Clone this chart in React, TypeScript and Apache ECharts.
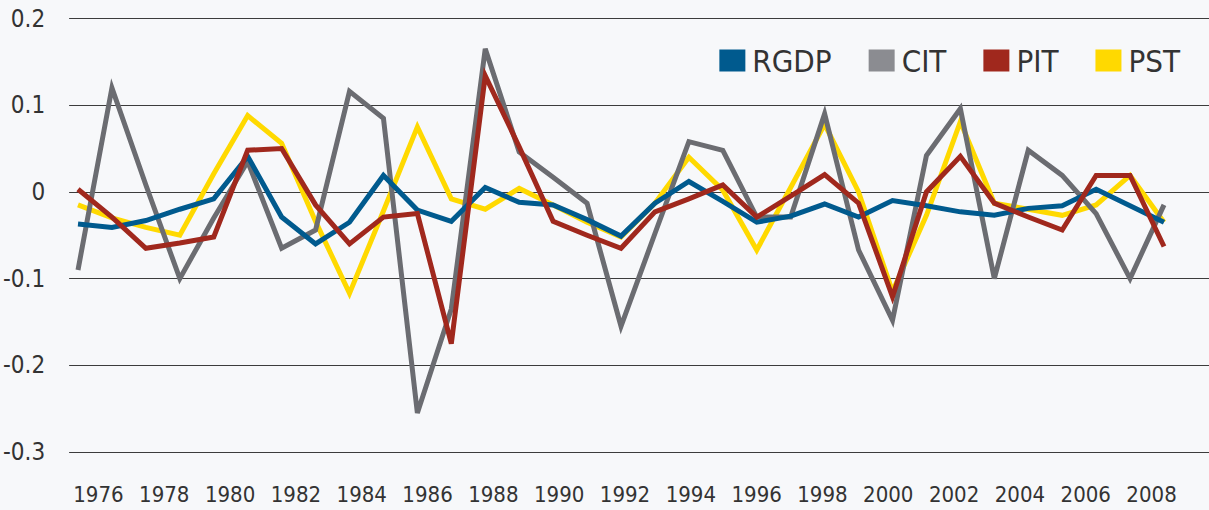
import React, { useEffect, useRef } from "react";
import * as echarts from "echarts";

const years = [
  "1976", "1977", "1978", "1979", "1980", "1981", "1982", "1983", "1984", "1985",
  "1986", "1987", "1988", "1989", "1990", "1991", "1992", "1993", "1994", "1995",
  "1996", "1997", "1998", "1999", "2000", "2001", "2002", "2003", "2004", "2005",
  "2006", "2007", "2008",
];

const rgdp = [
  -0.037, -0.041, -0.033, -0.020, -0.008, 0.041, -0.029, -0.060, -0.035, 0.019,
  -0.021, -0.034, 0.005, -0.012, -0.015, -0.032, -0.051, -0.013, 0.012, -0.011,
  -0.035, -0.028, -0.014, -0.029, -0.010, -0.016, -0.023, -0.027, -0.019, -0.016,
  0.003, -0.016, -0.035,
];

const cit = [
  -0.090, 0.120, 0.008, -0.100, -0.030, 0.035, -0.065, -0.044, 0.116, 0.085,
  -0.255, -0.135, 0.165, 0.046, 0.017, -0.013, -0.155, -0.048, 0.058, 0.048,
  -0.029, -0.029, 0.090, -0.067, -0.148, 0.042, 0.096, -0.100, 0.048, 0.019,
  -0.025, -0.100, -0.015,
];

const pit = [
  0.003, -0.029, -0.065, -0.059, -0.052, 0.048, 0.050, -0.015, -0.060, -0.029,
  -0.025, -0.175, 0.134, 0.052, -0.034, -0.050, -0.065, -0.023, -0.008, 0.008,
  -0.029, -0.005, 0.020, -0.013, -0.121, 0.000, 0.041, -0.013, -0.029, -0.044,
  0.019, 0.019, -0.063,
];

const pst = [
  -0.015, -0.030, -0.041, -0.050, 0.021, 0.088, 0.056, -0.034, -0.117, -0.022,
  0.075, -0.008, -0.020, 0.004, -0.015, -0.035, -0.052, -0.013, 0.040, 0.002,
  -0.067, 0.005, 0.078, 0.000, -0.115, -0.027, 0.081, -0.013, -0.020, -0.027,
  -0.015, 0.019, -0.035,
];

const yTicks = { min: -0.3, max: 0.2, interval: 0.1 };

const FONT = "'Liberation Sans Narrow', 'DejaVu Sans Condensed', 'Roboto', sans-serif";
const TEXT = "#333333";

const seriesDefs = [
  { name: "PST", data: pst, color: "#ffd900", z: 2 },
  { name: "CIT", data: cit, color: "#6b6c71", z: 3 },
  { name: "RGDP", data: rgdp, color: "#005a8e", z: 4 },
  { name: "PIT", data: pit, color: "#a0281d", z: 5 },
];

export default function App() {
  const ref = useRef<HTMLDivElement>(null);

  useEffect(() => {
    if (!ref.current) return;
    const chart = echarts.init(ref.current, undefined, { renderer: "svg" });
    const gridBase = { top: 18.5, height: 433.5 };
    const hiddenY = (gi: number) => ({
      type: "value",
      gridIndex: gi,
      min: yTicks.min,
      max: yTicks.max,
      interval: yTicks.interval,
      show: false,
    });
    chart.setOption({
      animation: false,
      backgroundColor: "#f7f8fa",
      grid: [
        { ...gridBase, left: 66, right: 0 },
        { ...gridBase, left: 78, width: 1086 },
        { ...gridBase, left: 82, width: 1086 },
      ],
      xAxis: [
        { type: "value", gridIndex: 0, min: 0, max: 1, show: false },
        {
          type: "category",
          gridIndex: 1,
          data: years,
          boundaryGap: false,
          show: false,
        },
        {
          type: "category",
          gridIndex: 2,
          data: years,
          boundaryGap: true,
          axisLine: { show: false },
          axisTick: { show: false },
          splitLine: { show: false },
          axisLabel: {
            interval: 1,
            margin: 31,
            color: TEXT,
            fontFamily: FONT,
            fontSize: 22,
          },
        },
      ],
      yAxis: [
        {
          type: "value",
          gridIndex: 0,
          min: yTicks.min,
          max: yTicks.max,
          interval: yTicks.interval,
          axisLine: { show: false },
          axisTick: { show: false },
          splitLine: { show: true, lineStyle: { color: "#3c3c3c", width: 1 } },
          axisLabel: {
            margin: 24,
            color: TEXT,
            fontFamily: FONT,
            fontSize: 24,
            formatter: (v: number) => String(Math.round(v * 10) / 10),
          },
        },
        hiddenY(1),
        hiddenY(2),
      ],
      legend: {
        data: [
          { name: "RGDP" },
          { name: "CIT", itemStyle: { color: "#8b8c91" } },
          { name: "PIT" },
          { name: "PST" },
        ],
        right: 24,
        top: 40,
        icon: "rect",
        itemWidth: 26,
        itemHeight: 22,
        itemGap: 37,
        textStyle: { color: TEXT, fontFamily: FONT, fontSize: 31, padding: [0, 0, 0, 2] },
        itemStyle: { borderWidth: 0 },
      },
      series: seriesDefs.map((s) => ({
        name: s.name,
        type: "line",
        xAxisIndex: 1,
        yAxisIndex: 1,
        data: s.data,
        symbol: "none",
        showSymbol: false,
        z: s.z,
        color: s.color,
        itemStyle: { color: s.color },
        lineStyle: { color: s.color, width: 5, cap: "butt", join: "miter" },
      })),
    });
    return () => chart.dispose();
  }, []);

  return (
    <div
      ref={ref}
      style={{ position: "fixed", left: 0, top: 0, width: 1209, height: 510 }}
    />
  );
}
